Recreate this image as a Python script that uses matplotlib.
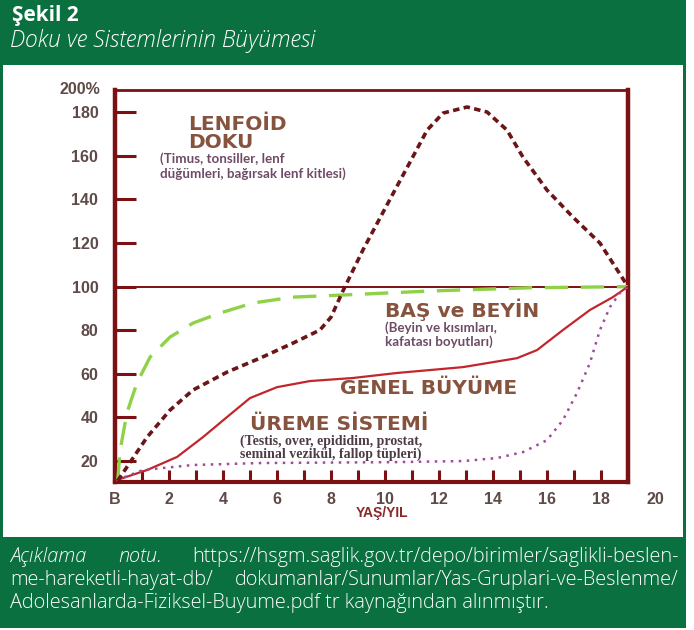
import matplotlib
matplotlib.use("Agg")
import matplotlib.pyplot as plt
import matplotlib.patches as mpatches

# ── Data (age in years, % of adult size) ──────────────────────────────────────
LENF_X = [0.1, 1.19, 2.04, 2.89, 4.15, 5.37, 6.59, 7.59, 8.0, 8.44, 9.19, 10.19,
          10.93, 11.56, 12.15, 13.04, 13.78, 14.52, 15.11, 16.0, 16.96, 17.96, 19.0]
LENF_Y = [11, 31.0, 43.4, 52.6, 60.8, 67.2, 74.1, 80.1, 86.0, 98.0, 117.0, 140.2,
          157.2, 171.8, 179.6, 182.4, 180.1, 171.8, 159.4, 144.3, 131.9, 120.0, 100]

BAS_X = [0.1, 0.19, 0.44, 0.81, 1.30, 2.04, 2.89, 3.89, 5.11, 6.59, 8.33, 11.67, 15.37, 19.0]
BAS_Y = [11, 25.0, 42.0, 55.8, 67.7, 76.9, 83.3, 87.9, 92.5, 95.2, 96.1, 98.0, 99.5, 100]

GENEL_X = [0.07, 1.19, 2.30, 3.26, 4.15, 5.0, 6.0, 7.22, 8.81, 10.44, 12.89, 14.89,
           15.63, 16.59, 17.59, 18.44, 19.0]
GENEL_Y = [11.3, 15.9, 21.9, 31.0, 40.2, 48.9, 53.9, 56.7, 58.1, 60.4, 63.1, 67.2,
           70.9, 80.1, 89.3, 95.2, 100]

UREME_X = [0.07, 1.04, 2.89, 5.37, 10.19, 12.89, 14.15, 15.11, 16.0, 16.59, 17.11,
           17.59, 17.96, 18.33, 18.7, 19.0]
UREME_Y = [11.3, 15.9, 18.2, 19.1, 19.5, 20.0, 21.4, 24.1, 29.6, 38.8, 51.2,
           65.0, 80.1, 90.6, 97.1, 100]

Y_TICKS = [20, 40, 60, 80, 100, 120, 140, 160, 180]
X_TICKS = [0, 2, 4, 6, 8, 10, 12, 14, 16, 18]
X_LABELS = ["B", "2", "4", "6", "8", "10", "12", "14", "16", "18"]

GREEN = "#0a7040"
MAROON = "#7b1113"
LABEL_C = "#5e4a46"
BIG_C = "#86533f"
SUB_C = "#6e4b66"

W, H = 694, 630
fig = plt.figure(figsize=(W / 100, H / 100), dpi=100, facecolor="white")


def px_rect(x0, y0, x1, y1, color):
    fig.add_artist(mpatches.Rectangle((x0 / W, 1 - y1 / H), (x1 - x0) / W, (y1 - y0) / H,
                                      transform=fig.transFigure, facecolor=color,
                                      edgecolor="none", zorder=0))


# frame: header, footer, side borders
px_rect(0, 0, 686, 65, GREEN)
px_rect(0, 537, 686, 628, GREEN)
px_rect(0, 65, 3, 537, GREEN)
px_rect(683, 65, 686, 537, GREEN)

fig.text(12 / W, 1 - 16 / H, "Şekil 2", color="white", fontsize=15,
         family="Open Sans", weight="bold", ha="left", va="center")
fig.text(10 / W, 1 - 41 / H, "Doku ve Sistemlerinin Büyümesi", color="white",
         fontsize=16.5, family="Open Sans", weight="light", style="italic",
         ha="left", va="center")

# footer note (justified by hand)
fkw = dict(color="white", fontsize=14.3, family="Open Sans", weight="light", va="center")
fig.text(10 / W, 1 - 557 / H, "Açıklama", style="italic", ha="left", **fkw)
fig.text(118 / W, 1 - 557 / H, "notu.", style="italic", ha="left", **fkw)
fig.text(679 / W, 1 - 557 / H, "https://hsgm.saglik.gov.tr/depo/birimler/saglikli-beslen-",
         ha="right", **fkw)
fig.text(10 / W, 1 - 580 / H, "me-hareketli-hayat-db/", ha="left", **fkw)
fig.text(679 / W, 1 - 580 / H, "dokumanlar/Sunumlar/Yas-Gruplari-ve-Beslenme/",
         ha="right", **fkw)
fig.text(10 / W, 1 - 603 / H,
         "Adolesanlarda-Fiziksel-Buyume.pdf tr kaynağından alınmıştır.",
         ha="left", **fkw)

# ── Chart ─────────────────────────────────────────────────────────────────────
ax = fig.add_axes([115 / W, 1 - 482 / H, (628 - 115) / W, (482 - 90) / H])
ax.set_facecolor("white")
ax.set_xlim(0, 19)
ax.set_ylim(10.4, 190.2)

for side, lw in [("left", 3.2), ("right", 3.2), ("bottom", 3.0), ("top", 2.0)]:
    ax.spines[side].set_color(MAROON)
    ax.spines[side].set_linewidth(lw)

ax.axhline(100, color=MAROON, lw=1.4, zorder=1)

ax.plot(BAS_X, BAS_Y, color="#8fd147", lw=2.4, dashes=(7, 3.8), zorder=3)
ax.plot(GENEL_X, GENEL_Y, color="#c2262c", lw=1.6, zorder=3)
ax.plot(UREME_X, UREME_Y, color="#a04a9a", lw=1.8, dashes=(1, 2.2), zorder=3)
ax.plot(LENF_X, LENF_Y, color="#6a1518", lw=2.6, dashes=(1.8, 1.2), zorder=4,
        clip_on=False)

ax.set_yticks(Y_TICKS)
ax.set_yticklabels([str(v) for v in Y_TICKS])
ax.set_xticks(X_TICKS)
ax.set_xticklabels(X_LABELS)
ax.set_xticks(range(1, 19, 2), minor=True)
ax.tick_params(axis="y", direction="in", length=15, width=2.2, color=MAROON,
               pad=12, labelsize=11.5, labelcolor=LABEL_C)
ax.tick_params(axis="x", which="both", direction="in", length=9, width=2.2,
               color=MAROON, pad=7, labelsize=11.5, labelcolor=LABEL_C)
for t in ax.get_xticklabels() + ax.get_yticklabels():
    t.set_fontweight("bold")
    t.set_family("Liberation Sans")

ax.text(-0.028, 1.0, "200%", transform=ax.transAxes, ha="right", va="center",
        fontsize=11.5, fontweight="bold", color=LABEL_C, family="Liberation Sans")
ax.text(20, -0.045, "20", transform=ax.get_xaxis_transform(), ha="center", va="center",
        fontsize=11.5, fontweight="bold", color=LABEL_C, family="Liberation Sans",
        clip_on=False)

ax.set_xlabel("YAŞ/YIL", fontsize=10, fontweight="bold", color="#8b2a2a",
              family="Liberation Sans")
ax.xaxis.set_label_coords(0.52, -0.079)
ax.xaxis.label.set_va("center")

# ── Annotations ───────────────────────────────────────────────────────────────
big = dict(fontsize=14.5, fontweight="bold", color=BIG_C, family="DejaVu Sans",
           ha="left", va="center")
sub = dict(fontsize=9.6, fontweight="bold", color=SUB_C, family="Lato",
           ha="left", va="center")
ser = dict(fontsize=10, fontweight="bold", color="#4d3c48", family="Liberation Serif",
           ha="left", va="center")

ax.text(2.7, 174.3, "LENFOİD", **big)
ax.text(2.7, 165.9, "DOKU", **big)
ax.text(1.67, 158.8, "(Timus, tonsiller, lenf", **sub)
ax.text(1.67, 152.0, "düğümleri, bağırsak lenf kitlesi)", **sub)

ax.text(10.0, 89.2, "BAŞ ve BEYİN", **big)
ax.text(10.0, 81.4, "(Beyin ve kısımları,", **sub)
ax.text(10.0, 74.6, "kafatası boyutları)", **sub)

ax.text(8.33, 53.5, "GENEL BÜYÜME", **big)

ax.text(5.0, 36.6, "ÜREME SİSTEMİ", **big)
ax.text(4.63, 29.2, "(Testis, over, epididim, prostat,", **ser)
ax.text(4.63, 22.9, "seminal vezikül, fallop tüpleri)", **ser)

fig.savefig("out.png", dpi=100, facecolor="white")
